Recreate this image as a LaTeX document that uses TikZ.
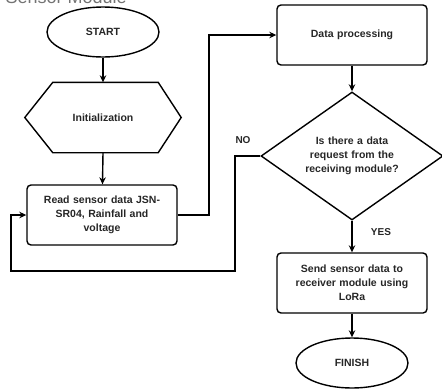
\documentclass[tikz,border=0pt]{standalone}
\usepackage{fontspec}
\setmainfont{Liberation Sans}
\usetikzlibrary{shapes.geometric,arrows.meta}
\begin{document}
\begin{tikzpicture}[x=1pt,y=-1pt,
  line width=1.4pt,
  txt/.style={font=\bfseries\fontsize{10.5}{14}\selectfont, text=black!85, align=center},
  term/.style={ellipse, draw, txt, minimum width=112pt, minimum height=50pt, inner sep=0pt},
  proc/.style={rectangle, rounded corners=4pt, draw, txt, minimum width=150pt, minimum height=60pt, text width=140pt, inner sep=0pt},
  dec/.style={diamond, draw, txt, minimum width=182pt, minimum height=128pt, inner sep=0pt, aspect=1.42},
  lbl/.style={font=\bfseries\fontsize{10}{11}\selectfont, text=black!85},
  arr/.style={-{Stealth[length=7pt,width=6.5pt]}}
]
\useasboundingbox (0,0) rectangle (442,389);
\begin{scope}
\clip (0,0) rectangle (442,389);
\node[anchor=base west, font=\fontsize{18}{20}\selectfont, text=black!55, inner sep=0pt] (title) at (5,3) {Sensor Module};
\end{scope}

\node[term] (start) at (103,32) {START};
\node[txt, minimum width=155pt, minimum height=69pt, inner sep=0pt] (init) at (103,117.5) {Initialization};
\draw (init.west) -- ([xshift=28pt]init.north west) -- ([xshift=-23pt]init.north east) -- (init.east) -- ([xshift=-23pt]init.south east) -- ([xshift=28pt]init.south west) -- cycle;
\node[proc] (read) at (102,215) {Read sensor data JSN-\\SR04, Rainfall and\\voltage};
\node[proc] (dp) at (352,35) {Data processing};
\node[dec, text width=104pt] (dec) at (352,156) {Is there a data\\request from the\\receiving module?};
\node[proc] (send) at (352,283) {Send sensor data to\\receiver module using\\LoRa};
\node[term] (fin) at (352,363) {FINISH};

\coordinate (c1) at (209,215);
\coordinate (c2) at (235,271);
\coordinate (c3) at (11,271);

\draw[arr] (start) -- (init.north);
\draw[arr] (init.south) -- (read);
\draw[arr] (read.east) -- (c1) |- (dp.west);
\draw[arr] (dp) -- (dec);
\draw[arr] (dec.west) -| (c2) -- (c3) |- (read.west);
\draw[arr] (dec.south) -- (send);
\draw[arr] (send) -- (fin);

\node[lbl] (no) at (243,140) {NO};
\node[lbl] (yes) at (381,232) {YES};
\end{tikzpicture}
\end{document}
